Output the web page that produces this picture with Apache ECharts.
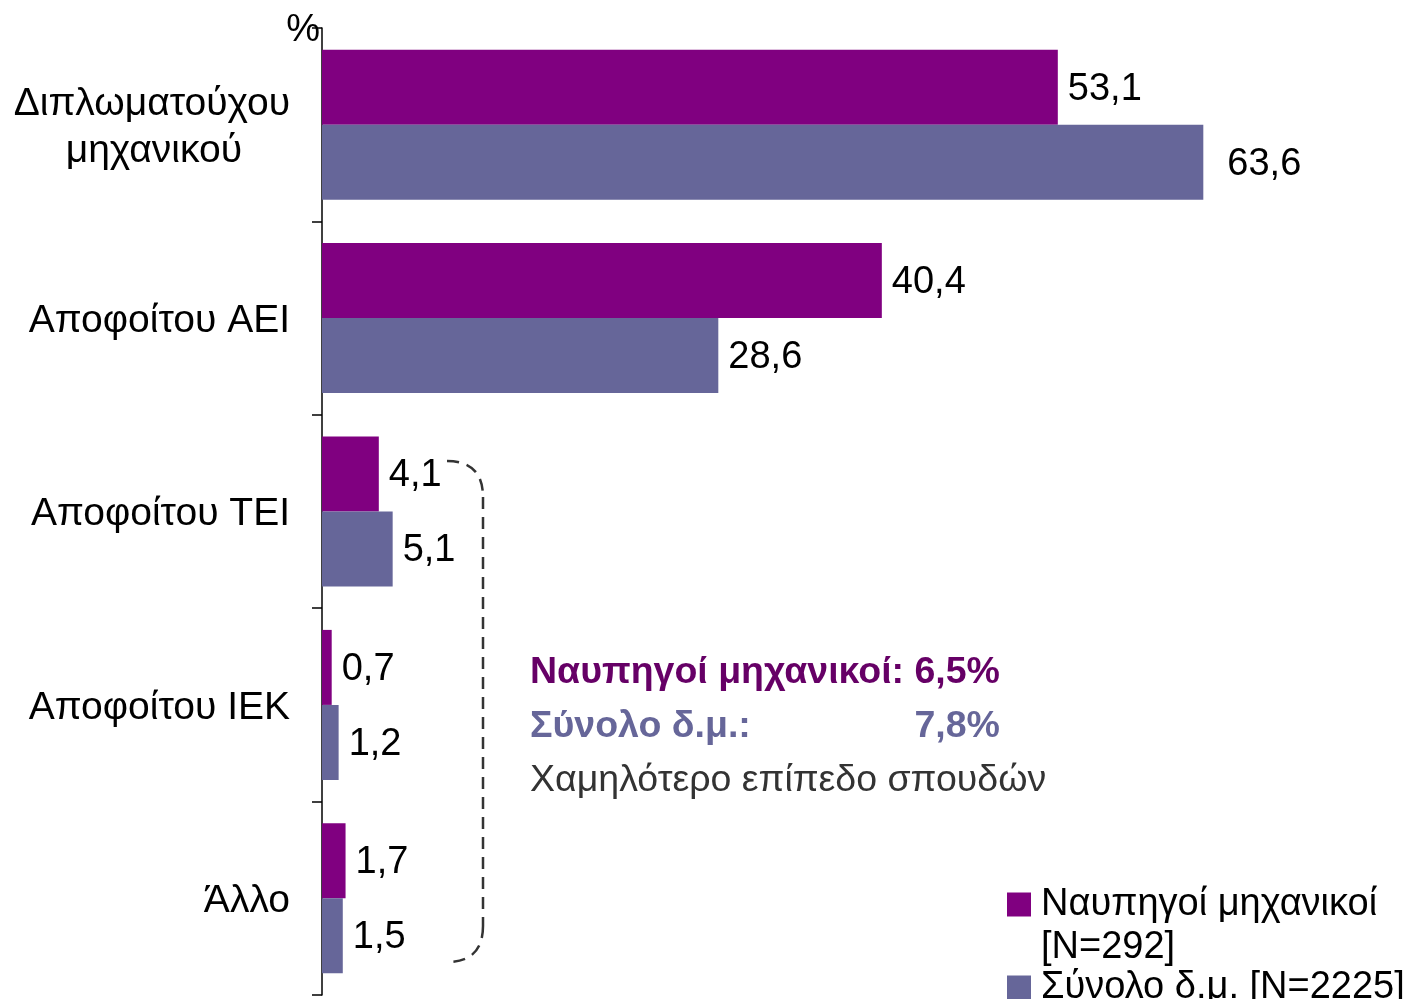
<!DOCTYPE html>
<html>
<head>
<meta charset="utf-8">
<script src="https://cdn.jsdelivr.net/npm/echarts@6/dist/echarts.min.js"></script>
<style>
  html, body { margin: 0; padding: 0; background: #ffffff; }
  #chart { width: 1413px; height: 999px; }
</style>
</head>
<body>
<div id="chart"></div>
<script>
// Educational level of naval engineers vs. all engineers (%)
const categories = ['Διπλωματούχου\nμηχανικού', 'Αποφοίτου ΑΕΙ', 'Αποφοίτου ΤΕΙ', 'Αποφοίτου ΙΕΚ', 'Άλλο'];
const navalEngineers = [53.1, 40.4, 4.1, 0.7, 1.7];
const allEngineers = [63.6, 28.6, 5.1, 1.2, 1.5];
const seriesNames = ['Ναυπηγοί μηχανικοί [N=292]', 'Σύνολο δ.μ. [N=2225]'];
const lowerLevelIndices = [2, 3, 4];

const FONT = '"Liberation Sans", Arial, sans-serif';
const PURPLE = '#800080';
const SLATE = '#666699';

const fmt = v => v.toFixed(1).replace('.', ',');
const sumOf = (arr, idx) => idx.reduce((s, i) => s + arr[i], 0);

// text width helper for lining up the summary box
const measureCtx = document.createElement('canvas').getContext('2d');
const textWidth = (text, font) => { measureCtx.font = font; return measureCtx.measureText(text).width; };

const chart = echarts.init(document.getElementById('chart'));

const labelStyle = {
  show: true,
  position: 'right',
  distance: 10,
  offset: [0, 2],
  color: '#000',
  fontFamily: FONT,
  fontSize: 38,
  formatter: p => fmt(p.value)
};

const bracketStyle = { fill: 'none', stroke: '#333333', lineWidth: 2.5, lineDash: [12, 8] };

// summary box next to the bracket
const BOLD = 'bold 37.5px ' + FONT;
const navalLine = 'Ναυπηγοί μηχανικοί: ' + fmt(sumOf(navalEngineers, lowerLevelIndices)) + '%';
const summaryLeft = 530;
const summaryRight = summaryLeft + textWidth(navalLine, BOLD);

chart.setOption({
  backgroundColor: '#ffffff',
  animation: false,
  grid: { left: 322, top: 28, right: 121, bottom: 4, containLabel: false },
  xAxis: {
    type: 'value',
    min: 0,
    max: 70,
    show: false,
    splitLine: { show: false }
  },
  yAxis: {
    type: 'category',
    inverse: true,
    data: categories,
    name: '%',
    nameLocation: 'start',
    nameGap: -3,
    nameTextStyle: {
      fontFamily: FONT, fontSize: 38, color: '#000',
      align: 'right', verticalAlign: 'middle', padding: [0, 2, 0, 0]
    },
    axisLine: { lineStyle: { color: '#000', width: 1.5 } },
    axisTick: { show: true, length: 10, alignWithLabel: false, lineStyle: { color: '#000', width: 1.5 } },
    axisLabel: {
      margin: 32,
      color: '#000',
      fontFamily: FONT,
      fontSize: 39,
      lineHeight: 47,
      align: 'right',
      padding: [6, 0, 0, 0],
      formatter: v => {
        const parts = v.split('\n');
        if (parts.length === 1) return v;
        return '{a|' + parts[0] + '}\n{b|' + parts[1] + '}';
      },
      rich: {
        a: { fontFamily: FONT, fontSize: 39, lineHeight: 47, color: '#000' },
        // second line sits centred under the first
        b: { fontFamily: FONT, fontSize: 39, lineHeight: 47, color: '#000', padding: [0, 48, 0, 0] }
      }
    },
    splitLine: { show: false }
  },
  legend: [
    {
      data: [seriesNames[0]],
      left: 1007,
      top: 840,
      padding: 0,
      icon: 'rect',
      itemWidth: 24,
      itemHeight: 24,
      // leading blank line keeps the swatch level with the first text line
      formatter: n => '\n' + n.replace(' [', '\n['),
      textStyle: { fontFamily: FONT, fontSize: 38, lineHeight: 43, color: '#000', padding: [0, 0, 0, 5] }
    },
    {
      data: [seriesNames[1]],
      left: 1007,
      top: 966,
      padding: 0,
      icon: 'rect',
      itemWidth: 24,
      itemHeight: 24,
      textStyle: { fontFamily: FONT, fontSize: 38, lineHeight: 43, color: '#000', padding: [0, 0, 0, 5] }
    }
  ],
  series: [
    {
      name: seriesNames[0],
      type: 'bar',
      data: navalEngineers,
      barWidth: 75,
      barGap: '0%',
      itemStyle: { color: PURPLE },
      label: labelStyle
    },
    {
      name: seriesNames[1],
      type: 'bar',
      // the longest bar's label sits a little further out
      data: allEngineers.map((v, i) => i === 0 ? { value: v, label: { distance: 24 } } : v),
      barWidth: 75,
      barGap: '0%',
      itemStyle: { color: SLATE },
      label: labelStyle
    }
  ],
  graphic: [
    // dashed bracket grouping the lower education levels
    {
      type: 'bezierCurve',
      shape: { x1: 447, y1: 461, cpx1: 483, cpy1: 461, x2: 483, y2: 497 },
      style: bracketStyle
    },
    {
      type: 'line',
      shape: { x1: 483, y1: 497, x2: 483, y2: 926 },
      style: bracketStyle
    },
    {
      type: 'bezierCurve',
      shape: { x1: 483, y1: 926, cpx1: 483, cpy1: 962, x2: 447, y2: 962 },
      style: bracketStyle
    },
    {
      type: 'text', x: summaryLeft, y: 673,
      style: { text: navalLine, fill: '#660066', font: BOLD, verticalAlign: 'middle' }
    },
    {
      type: 'text', x: summaryLeft, y: 727,
      style: { text: 'Σύνολο δ.μ.:', fill: SLATE, font: BOLD, verticalAlign: 'middle' }
    },
    {
      type: 'text', x: summaryRight, y: 727,
      style: { text: fmt(sumOf(allEngineers, lowerLevelIndices)) + '%', fill: SLATE, font: BOLD, align: 'right', verticalAlign: 'middle' }
    },
    {
      type: 'text', x: summaryLeft, y: 781,
      style: { text: 'Χαμηλότερο επίπεδο σπουδών', fill: '#333333', font: '37.5px ' + FONT, verticalAlign: 'middle' }
    }
  ]
});
</script>
</body>
</html>
